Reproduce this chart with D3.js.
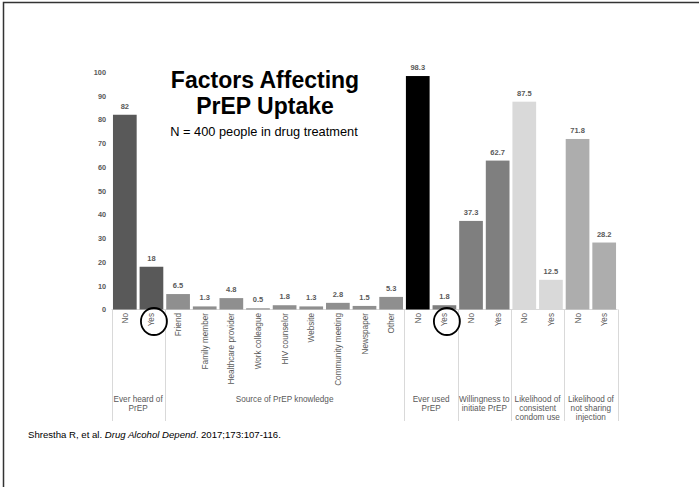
<!DOCTYPE html>
<html>
<head>
<meta charset="utf-8">
<script src="https://cdn.jsdelivr.net/npm/d3@7"></script>
<style>
  html, body { margin: 0; padding: 0; background: #fff; }
  svg { display: block; font-family: "Liberation Sans", Arial, sans-serif; }
</style>
</head>
<body>
<svg id="chart" width="699" height="487"></svg>
<script>
// Bar categories (tick labels along the bottom)
const categories = ["No", "Yes", "Friend", "Family member", "Healthcare provider", "Work colleague",
  "HIV counselor", "Website", "Community meeting", "Newspaper", "Other",
  "No", "Yes", "No", "Yes", "No", "Yes", "No", "Yes"];
// Percent of respondents
const values = [82, 18, 6.5, 1.3, 4.8, 0.5, 1.8, 1.3, 2.8, 1.5, 5.3,
  98.3, 1.8, 37.3, 62.7, 87.5, 12.5, 71.8, 28.2];
// Question groups: first bar index, bar count, label lines
const groupStarts = [0, 2, 11, 13, 15, 17];
const groupSizes = [2, 9, 2, 2, 2, 2];
const groupLabels = [
  ["Ever heard of", "PrEP"],
  ["Source of PrEP knowledge"],
  ["Ever used", "PrEP"],
  ["Willingness to", "initiate PrEP"],
  ["Likelihood of", "consistent", "condom use"],
  ["Likelihood of", "not sharing", "injection"]
];
const barColors = ["#595959", "#595959",
  "#8f8f8f", "#8f8f8f", "#8f8f8f", "#8f8f8f", "#8f8f8f", "#8f8f8f", "#8f8f8f", "#8f8f8f", "#8f8f8f",
  "#000000", "#7f7f7f", "#7f7f7f", "#7f7f7f", "#d9d9d9", "#d9d9d9", "#adadad", "#adadad"];
const yTicks = [0, 10, 20, 30, 40, 50, 60, 70, 80, 90, 100];
// Answers highlighted with a ring
const circled = [1, 12];

const svg = d3.select("#chart");

// slide frame (top and left edges)
svg.append("path")
  .attr("d", "M3.5,487 V2.5 H699")
  .attr("fill", "none")
  .attr("stroke", "#333")
  .attr("stroke-width", 1.5);

const x = d3.scaleBand()
  .domain(d3.range(categories.length))
  .range([111.5, 617.5])
  .paddingInner(0.11)
  .paddingOuter(0.055);

const y = d3.scaleLinear().domain([0, 100]).range([309.5, 72]);

// y axis labels only
const yAxis = svg.append("g")
  .attr("transform", "translate(106,0)")
  .call(d3.axisLeft(y).tickValues(yTicks).tickSize(0).tickPadding(0));
yAxis.select(".domain").remove();
yAxis.selectAll("text")
  .attr("fill", "#595959")
  .style("font-size", "7.3px")
  .style("font-weight", "bold")
  .style("font-family", "'Liberation Sans', Arial, sans-serif");

// category grid: baseline and group separators
const gridColor = "#d9d9d9";
svg.append("line")
  .attr("x1", x.range()[0]).attr("x2", x.range()[1])
  .attr("y1", y(0)).attr("y2", y(0))
  .attr("stroke", gridColor).attr("stroke-width", 1);

const step = x.step();
const boundaries = [0].concat(groupStarts.map((s, i) => s + groupSizes[i]));
svg.selectAll("line.sep")
  .data(boundaries)
  .join("line")
  .attr("class", "sep")
  .attr("x1", d => Math.round(x.range()[0] + d * step) + 0.5)
  .attr("x2", d => Math.round(x.range()[0] + d * step) + 0.5)
  .attr("y1", y(0))
  .attr("y2", 421)
  .attr("stroke", gridColor)
  .attr("stroke-width", 1);

// bars
svg.selectAll("rect.bar")
  .data(values)
  .join("rect")
  .attr("class", "bar")
  .attr("x", (d, i) => x(i))
  .attr("width", x.bandwidth())
  .attr("y", d => y(d))
  .attr("height", d => y(0) - y(d))
  .attr("fill", (d, i) => barColors[i]);

// value labels
svg.selectAll("text.val")
  .data(values)
  .join("text")
  .attr("class", "val")
  .attr("x", (d, i) => x(i) + x.bandwidth() / 2)
  .attr("y", d => y(d) - 6)
  .attr("text-anchor", "middle")
  .attr("fill", "#595959")
  .style("font-size", "7.5px")
  .style("font-weight", "bold")
  .text(d => Number.isInteger(d) ? d : d.toFixed(1));

// rotated category labels
svg.selectAll("text.cat")
  .data(categories)
  .join("text")
  .attr("class", "cat")
  .attr("transform", (d, i) => `translate(${x(i) + x.bandwidth() / 2 + 3},313) rotate(-90)`)
  .attr("text-anchor", "end")
  .attr("fill", "#595959")
  .style("font-size", "8.2px")
  .text(d => d);

// group labels
groupLabels.forEach((lines, g) => {
  const cx = x.range()[0] + (groupStarts[g] + groupSizes[g] / 2) * step;
  const t = svg.append("text")
    .attr("text-anchor", "middle")
    .attr("fill", "#595959")
    .style("font-size", "8.2px");
  lines.forEach((ln, k) => {
    t.append("tspan").attr("x", cx).attr("y", 402 + k * 9).text(ln);
  });
});

// rings around highlighted answers
svg.selectAll("ellipse.ring")
  .data(circled)
  .join("ellipse")
  .attr("class", "ring")
  .attr("cx", d => x(d) + x.bandwidth() / 2 + 2.5)
  .attr("cy", 321.5)
  .attr("rx", 13)
  .attr("ry", 13.5)
  .attr("fill", "none")
  .attr("stroke", "#000")
  .attr("stroke-width", 1.8);

// title block
svg.append("text")
  .attr("x", 265).attr("y", 87.5)
  .attr("text-anchor", "middle")
  .style("font-size", "23px").style("font-weight", "bold")
  .attr("fill", "#000")
  .text("Factors Affecting");
svg.append("text")
  .attr("x", 265).attr("y", 113.5)
  .attr("text-anchor", "middle")
  .style("font-size", "23px").style("font-weight", "bold")
  .attr("fill", "#000")
  .text("PrEP Uptake");
svg.append("text")
  .attr("x", 264).attr("y", 136)
  .attr("text-anchor", "middle")
  .style("font-size", "12.8px")
  .attr("fill", "#000")
  .text("N = 400 people in drug treatment");

// citation
const cite = svg.append("text")
  .attr("x", 28).attr("y", 438)
  .style("font-size", "9.6px")
  .attr("fill", "#000");
cite.append("tspan").text("Shrestha R, et al. ");
cite.append("tspan").style("font-style", "italic").text("Drug Alcohol Depend");
cite.append("tspan").text(". 2017;173:107-116.");
</script>
</body>
</html>
